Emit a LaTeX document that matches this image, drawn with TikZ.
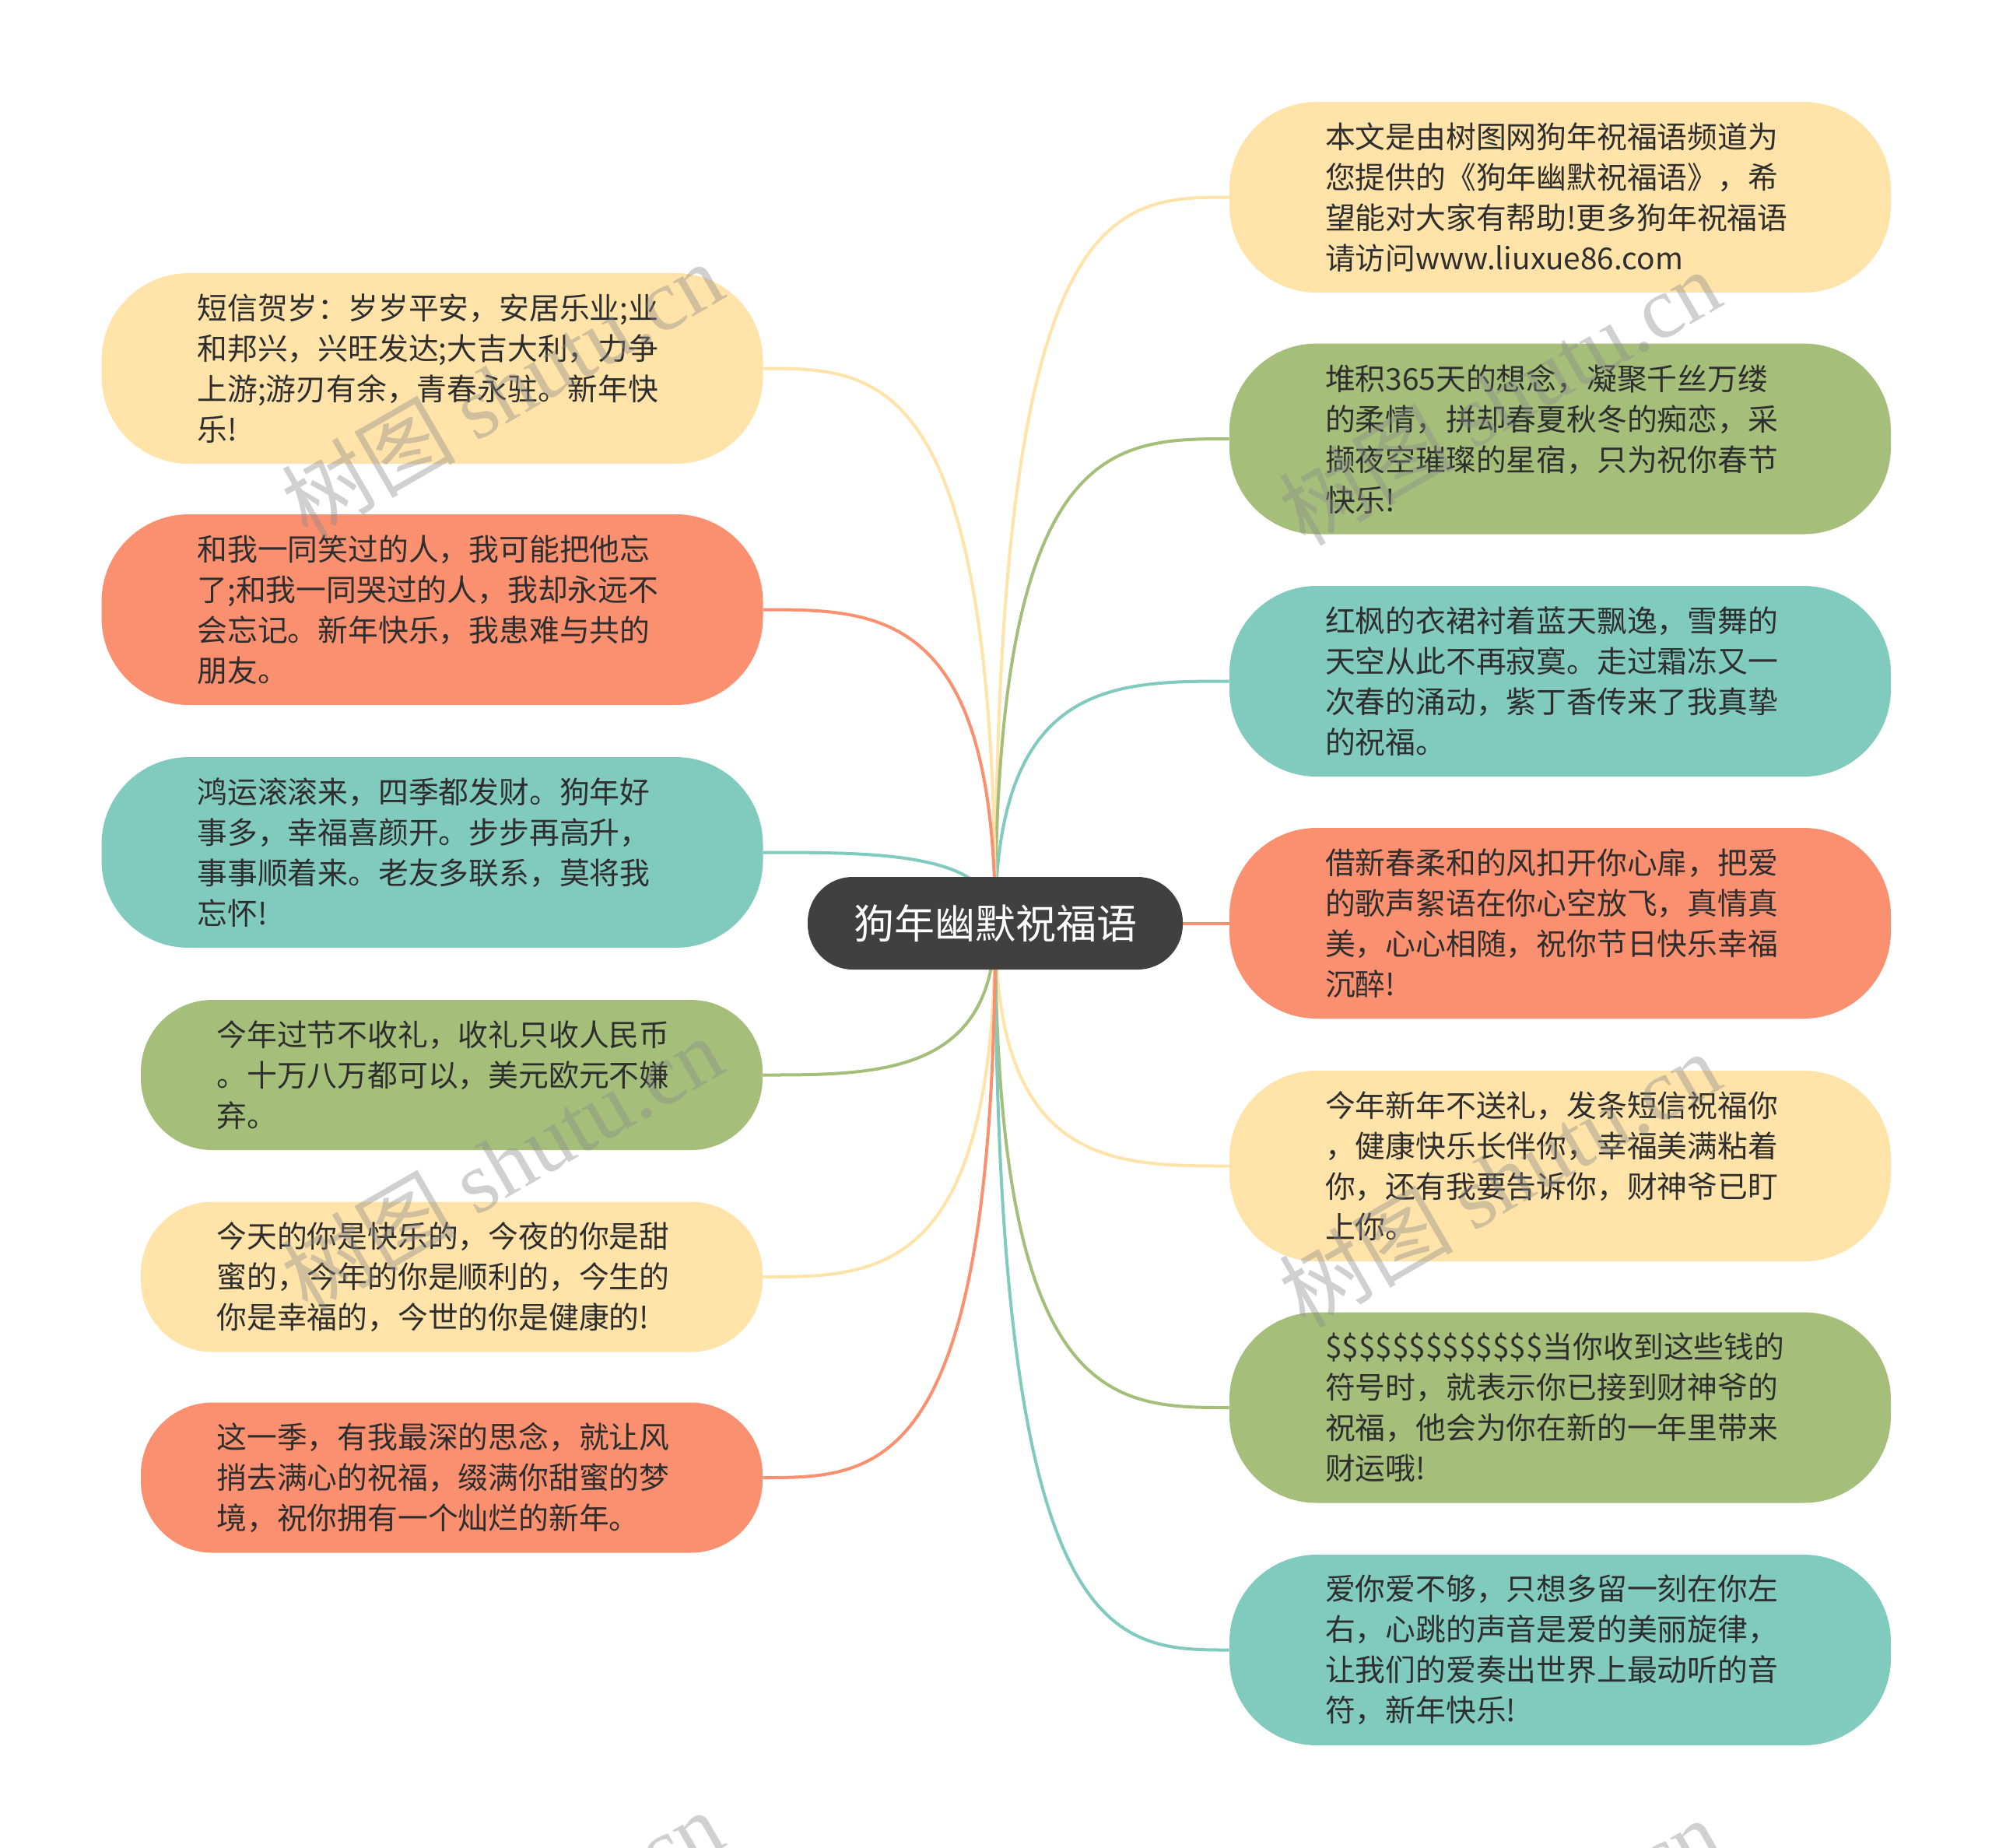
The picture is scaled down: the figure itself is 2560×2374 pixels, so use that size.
\documentclass[tikz,border=0pt]{standalone}
\usepackage{fontspec}
\setmainfont{Noto Sans CJK SC}
\newfontfamily\wmlatin{Liberation Serif}
\usetikzlibrary{backgrounds,calc}
\definecolor{cyel}{HTML}{FFE3A8}
\definecolor{corg}{HTML}{FA9070}
\definecolor{ctea}{HTML}{80CBBE}
\definecolor{cgrn}{HTML}{A5BE7A}
\definecolor{cdark}{HTML}{404040}
\definecolor{ctext}{HTML}{2E2E2E}
\definecolor{cwm}{HTML}{8A8A8A}
\newcommand\leaffont{\fontsize{19.4pt}{26pt}\selectfont}
\newcommand\rootfont{\fontsize{26pt}{32pt}\selectfont}
\newcommand\wmfont{\fontsize{56pt}{60pt}\selectfont}
\begin{document}
\begin{tikzpicture}[x=0.5pt,y=-0.5pt,
  leaf/.style={rectangle, rounded corners=56pt, minimum width=425pt, minimum height=122.5pt,
    text width=302pt, align=left, inner xsep=0pt, inner ysep=0pt, font=\leaffont, text=ctext},
  leafs/.style={leaf, rounded corners=46pt, minimum width=399.5pt, minimum height=96.5pt},
  rootnode/.style={rectangle, rounded corners=29pt, minimum width=241pt, minimum height=59.5pt,
    fill=cdark, text=white, font=\rootfont, inner sep=0pt},
  conn/.style={line width=2pt},
  wm/.style={rotate=30, text=cwm, opacity=0.4, font=\wmfont, inner sep=0pt}]
\useasboundingbox (0,0) rectangle (2560,2374);

% root
\node[rootnode] (c) at (1279,1186.5) {狗年幽默祝福语};

% right nodes
\node[leaf, fill=cyel] (r1) at (2005,253.5) {本文是由树图网狗年祝福语频道为\\您提供的《狗年幽默祝福语》，希\\望能对大家有帮助!更多狗年祝福语\\请访问www.liuxue86.com};
\node[leaf, fill=cgrn] (r2) at (2005,564) {堆积365天的想念，凝聚千丝万缕\\的柔情，拼却春夏秋冬的痴恋，采\\撷夜空璀璨的星宿，只为祝你春节\\快乐!};
\node[leaf, fill=ctea] (r3) at (2005,875.5) {红枫的衣裙衬着蓝天飘逸，雪舞的\\天空从此不再寂寞。走过霜冻又一\\次春的涌动，紫丁香传来了我真挚\\的祝福。};
\node[leaf, fill=corg] (r4) at (2005,1186.5) {借新春柔和的风扣开你心扉，把爱\\的歌声絮语在你心空放飞，真情真\\美，心心相随，祝你节日快乐幸福\\沉醉!};
\node[leaf, fill=cyel] (r5) at (2005,1498.5) {今年新年不送礼，发条短信祝福你\\，健康快乐长伴你，幸福美满粘着\\你，还有我要告诉你，财神爷已盯\\上你。};
\node[leaf, fill=cgrn] (r6) at (2005,1809) {\$\$\$\$\$\$\$\$\$\$\$\$\$当你收到这些钱的\\符号时，就表示你已接到财神爷的\\祝福，他会为你在新的一年里带来\\财运哦!};
\node[leaf, fill=ctea] (r7) at (2005,2120.5) {爱你爱不够，只想多留一刻在你左\\右，心跳的声音是爱的美丽旋律，\\让我们的爱奏出世界上最动听的音\\符，新年快乐!};

% left nodes
\node[leaf, fill=cyel] (l1) at (555.5,473.5) {短信贺岁：岁岁平安，安居乐业;业\\和邦兴，兴旺发达;大吉大利，力争\\上游;游刃有余，青春永驻。新年快\\乐!};
\node[leaf, fill=corg] (l2) at (555.5,783.5) {和我一同笑过的人，我可能把他忘\\了;和我一同哭过的人，我却永远不\\会忘记。新年快乐，我患难与共的\\朋友。};
\node[leaf, fill=ctea] (l3) at (555.5,1095.5) {鸿运滚滚来，四季都发财。狗年好\\事多，幸福喜颜开。步步再高升，\\事事顺着来。老友多联系，莫将我\\忘怀!};
\node[leafs, fill=cgrn] (l4) at (580.5,1381.5) {今年过节不收礼，收礼只收人民币\\。十万八万都可以，美元欧元不嫌\\弃。};
\node[leafs, fill=cyel] (l5) at (580.5,1641) {今天的你是快乐的，今夜的你是甜\\蜜的，今年的你是顺利的，今生的\\你是幸福的，今世的你是健康的!};
\node[leafs, fill=corg] (l6) at (580.5,1899) {这一季，有我最深的思念，就让风\\捎去满心的祝福，缀满你甜蜜的梦\\境，祝你拥有一个灿烂的新年。};

% background and connectors
\begin{scope}[on background layer]
\fill[white] (0,0) rectangle (2560,2374);
\foreach \t/\col in {r1/cyel, r2/cgrn, r3/ctea, r4/corg, r5/cyel, r6/cgrn, r7/ctea}{
  \draw[conn, \col] (c.center) .. controls (c.center |- \t.west) and ($(c.center |- \t.west)!0.5!(\t.west)$) .. (\t.west);
}
\foreach \t/\col in {l1/cyel, l2/corg, l3/ctea, l4/cgrn, l5/cyel, l6/corg}{
  \draw[conn, \col] (c.center) .. controls (c.center |- \t.east) and ($(c.center |- \t.east)!0.5!(\t.east)$) .. (\t.east);
}
\end{scope}

% watermarks
\node[wm] (w1) at (645,500) {树图 {\wmlatin shutu.cn}};
\node[wm] (w2) at (1927,510) {树图 {\wmlatin shutu.cn}};
\node[wm] (w3) at (645,1495) {树图 {\wmlatin shutu.cn}};
\node[wm] (w4) at (1927,1515) {树图 {\wmlatin shutu.cn}};
\node[wm] (w5) at (645,2490) {树图 {\wmlatin shutu.cn}};
\node[wm] (w6) at (1927,2500) {树图 {\wmlatin shutu.cn}};
\end{tikzpicture}
\end{document}
